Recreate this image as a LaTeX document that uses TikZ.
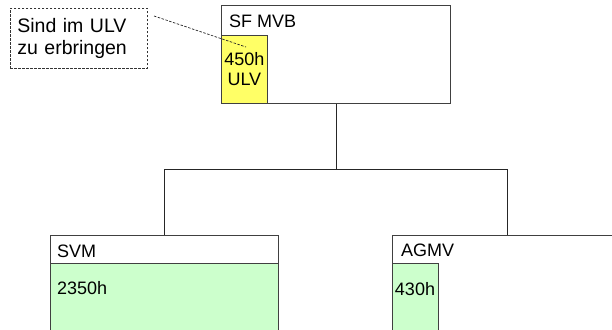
\documentclass[tikz,border=0pt]{standalone}
\usepackage{fontspec}
\setmainfont{Liberation Sans}
\usepackage{tikz}
\usetikzlibrary{arrows.meta,positioning}
\definecolor{ulvyellow}{RGB}{255,255,102}
\definecolor{hourgreen}{RGB}{204,255,204}

\begin{document}
\begin{tikzpicture}[x=1pt, y=-1pt, font=\fontsize{18}{21}\selectfont,
  orgbox/.style={draw=black!75, line width=0.8pt, fill=white, inner sep=0pt, anchor=north west},
  hourbox/.style={orgbox, fill=hourgreen},
  ulvbox/.style={orgbox, fill=ulvyellow, align=center},
  caption/.style={inner sep=0pt, anchor=base west},
  note/.style={draw=black!80, line width=0.7pt, dash pattern=on 2.5pt off 1.5pt, anchor=north west, inner xsep=7pt, align=left, font=\fontsize{19.5}{21.5}\selectfont},
  link/.style={draw=black!85, line width=0.8pt}]

  \useasboundingbox (0,0) rectangle (612,329);
  \clip (0,0) rectangle (612,329);

  % Define boxes
\node[orgbox, minimum width=229pt, minimum height=98pt] (sfmvb) at (221,5) {}; \node[ulvbox, minimum width=46pt, minimum height=68pt] (ulv) at (221,35) {450h\\[-1pt]ULV}; \node[caption] (sfmvbname) at (229,28) {SF MVB};
\node[orgbox, minimum width=228pt, minimum height=28pt] (svm) at (50,235) {}; \node[hourbox, minimum width=228pt, minimum height=80pt] (svmh) at (50,263) {}; \node[caption] (svmname) at (57,257) {SVM}; \node[caption] (svmhours) at (57,294) {2350h};
\node[orgbox, minimum width=230pt, minimum height=110pt] (agmv) at (392,235) {}; \node[hourbox, minimum width=46pt, minimum height=80pt] (agmvh) at (392,263) {}; \node[caption] (agmvname) at (401,256) {AGMV}; \node[caption, anchor=base] (agmvhours) at (415,295) {430h};
\node[note, minimum height=60pt, text width=123pt] (hint) at (10,8) {Sind im ULV\\zu erbringen};

  % Draw lines between boxes
\coordinate (bus) at (sfmvb.south |- 0,169); \coordinate (hintend) at (154,16); \coordinate (ulvend) at (246,47);
\draw[link] (sfmvb.south) -- (bus); \draw[link] (bus) -| (svm.north); \draw[link] (bus) -| (agmv.north);
\draw[black!85, line width=0.7pt, dash pattern=on 2.5pt off 1.5pt] (hintend) -- (ulvend);

\end{tikzpicture}
\end{document}
